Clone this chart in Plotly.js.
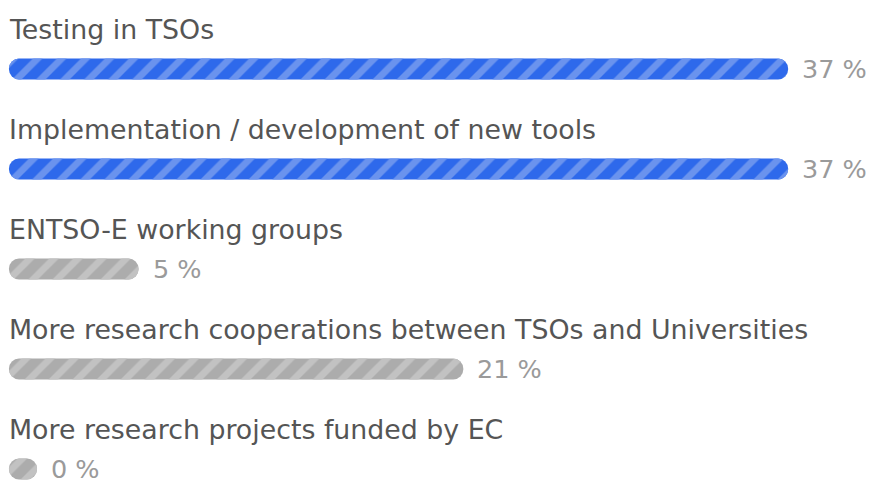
<!DOCTYPE html>
<html><head><meta charset="utf-8">
<script src="https://cdn.plot.ly/plotly-3.0.1.min.js"></script>
<style>html,body{margin:0;padding:0;background:#fff;}#chart{width:872px;height:481px;}</style>
</head><body><div id="chart"></div>
<script>
const categories = [
  "Testing in TSOs",
  "Implementation / development of new tools",
  "ENTSO-E working groups",
  "More research cooperations between TSOs and Universities",
  "More research projects funded by EC"
];
const percents = [37, 37, 5, 21, 0];
const highlighted = [true, true, false, false, false];

const pillBase = -1.38; // minimum pill length so 0 % is still visible
const idx = categories.map((c, i) => i);

const bgColors = highlighted.map(h => h ? "#2e69eb" : "#acacac");
const fgColors = highlighted.map(h => h ? "#6a93ee" : "#c2c2c2");

const solid = {
  type: "bar", orientation: "h",
  y: idx, x: percents.map(p => p - pillBase), base: pillBase, width: 0.21,
  marker: {color: bgColors, line: {width: 0}},
  hoverinfo: "skip"
};
const stripes = {
  type: "bar", orientation: "h",
  y: idx, x: percents.map(p => p - pillBase), base: pillBase, width: 0.21,
  marker: {
    color: fgColors, line: {width: 0},
    pattern: {shape: "/", fgcolor: fgColors, bgcolor: "rgba(0,0,0,0)", size: 17, solidity: 0.4, fillmode: "replace"}
  },
  hoverinfo: "skip"
};

const annotations = [];
categories.forEach((c, i) => {
  annotations.push({
    text: c, xref: "paper", x: 0.008, xanchor: "left",
    yref: "y", y: i, yshift: 40, yanchor: "middle",
    showarrow: false, font: {family: "DejaVu Sans", size: 26.8, color: "#555555"}
  });
  annotations.push({
    text: percents[i] + " %", xref: "x", x: percents[i], xanchor: "left", xshift: 12,
    yref: "y", y: i, yanchor: "middle",
    showarrow: false, font: {family: "DejaVu Sans", size: 25.5, color: "#9a9a9a"}
  });
});

const layout = {
  width: 872, height: 481,
  margin: {l: 0, r: 0, t: 0, b: 0, pad: 0},
  paper_bgcolor: "#ffffff", plot_bgcolor: "#ffffff",
  showlegend: false,
  barmode: "overlay",
  barcornerradius: 10,
  xaxis: {range: [-1.823, 41.133], visible: false, fixedrange: true},
  yaxis: {range: [4.12, -0.69], visible: false, fixedrange: true},
  annotations: annotations
};

Plotly.newPlot("chart", [solid, stripes], layout, {displayModeBar: false, staticPlot: true});
</script></body></html>
